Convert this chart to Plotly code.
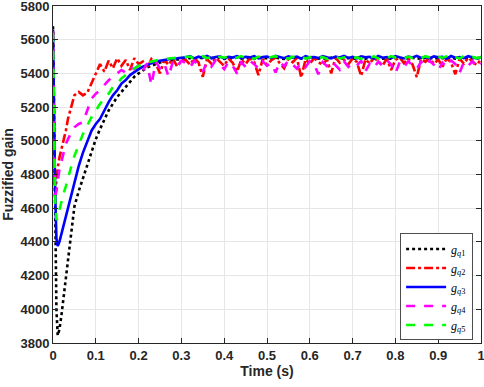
import plotly.graph_objects as go

time_s = [0, 0.002, 0.005, 0.008, 0.011, 0.015, 0.02, 0.025, 0.03, 0.035, 0.04, 0.045, 0.05,
          0.06, 0.07, 0.08, 0.09, 0.10, 0.11, 0.12, 0.13, 0.14, 0.15, 0.16, 0.17, 0.18, 0.19, 0.20,
          0.21, 0.22, 0.23, 0.24, 0.25, 0.26, 0.27, 0.28, 0.29, 0.30,
          0.31, 0.32, 0.33, 0.34, 0.35, 0.36, 0.37, 0.38, 0.39, 0.40,
          0.41, 0.42, 0.43, 0.44, 0.45, 0.46, 0.47, 0.48, 0.49, 0.50,
          0.51, 0.52, 0.53, 0.54, 0.55, 0.56, 0.57, 0.58, 0.59, 0.60,
          0.61, 0.62, 0.63, 0.64, 0.65, 0.66, 0.67, 0.68, 0.69, 0.70,
          0.71, 0.72, 0.73, 0.74, 0.75, 0.76, 0.77, 0.78, 0.79, 0.80,
          0.81, 0.82, 0.83, 0.84, 0.85, 0.86, 0.87, 0.88, 0.89, 0.90,
          0.91, 0.92, 0.93, 0.94, 0.95, 0.96, 0.97, 0.98, 0.99, 1.00]

g_q1 = [5680, 5300, 4600, 4000, 3845, 3880, 3970, 4080, 4190, 4300, 4420, 4520, 4610,
        4700, 4780, 4860, 4940, 5010, 5070, 5130, 5180, 5220, 5260, 5290, 5320, 5350, 5380, 5400,
        5420, 5435, 5445, 5455, 5465, 5470, 5475, 5480, 5482, 5485,
        5488, 5492, 5486, 5494, 5490, 5487, 5493, 5489, 5495, 5486,
        5491, 5488, 5494, 5487, 5492, 5490, 5486, 5493, 5489, 5491,
        5487, 5494, 5490, 5486, 5492, 5488, 5495, 5489, 5491, 5487,
        5493, 5488, 5490, 5486, 5494, 5489, 5492, 5487, 5491, 5490,
        5486, 5493, 5488, 5492, 5489, 5495, 5487, 5490, 5488, 5493,
        5486, 5491, 5489, 5494, 5487, 5490, 5492, 5488, 5493, 5486,
        5491, 5489, 5494, 5487, 5490, 5488, 5493, 5489, 5491, 5490]

g_q2 = [5650, 4900, 4680, 4760, 4840, 4900, 4950, 5000, 5060, 5130, 5180, 5230, 5270,
        5290, 5270, 5285, 5340, 5400, 5455, 5410, 5475, 5430, 5490, 5445, 5480, 5420, 5490, 5455,
        5470, 5430, 5485, 5460, 5400, 5480, 5450, 5490, 5440, 5475,
        5480, 5452, 5490, 5465, 5380, 5485, 5458, 5493, 5470, 5445,
        5488, 5462, 5410, 5482, 5455, 5491, 5468, 5390, 5486, 5450,
        5478, 5494, 5460, 5430, 5487, 5466, 5492, 5375, 5483, 5457,
        5490, 5470, 5448, 5485, 5400, 5493, 5463, 5480, 5454, 5489,
        5467, 5385, 5484, 5459, 5492, 5472, 5446, 5487, 5420, 5481,
        5495, 5461, 5488, 5453, 5378, 5486, 5469, 5491, 5456, 5483,
        5440, 5490, 5464, 5395, 5487, 5458, 5493, 5471, 5449, 5485]

g_q3 = [5660, 5200, 4700, 4420, 4375, 4400, 4450, 4510, 4560, 4610, 4650, 4700, 4750,
        4850, 4930, 5000, 5060, 5100, 5130, 5180, 5230, 5270, 5300, 5340, 5360, 5390, 5410, 5425,
        5440, 5450, 5460, 5470, 5475, 5480, 5485, 5488, 5490, 5492,
        5496, 5502, 5489, 5499, 5493, 5504, 5490, 5497, 5501, 5488,
        5498, 5494, 5503, 5491, 5499, 5495, 5502, 5489, 5497, 5500,
        5492, 5504, 5496, 5490, 5501, 5494, 5499, 5488, 5503, 5495,
        5497, 5491, 5502, 5496, 5489, 5500, 5494, 5504, 5492, 5498,
        5490, 5501, 5495, 5499, 5488, 5503, 5493, 5497, 5491, 5502,
        5496, 5489, 5500, 5494, 5504, 5492, 5498, 5490, 5501, 5495,
        5499, 5488, 5503, 5493, 5497, 5491, 5502, 5496, 5489, 5498]

g_q4 = [5650, 5000, 4680, 4700, 4760, 4830, 4880, 4930, 4980, 5010, 5040, 5060, 5080,
        5100, 5110, 5180, 5250, 5280, 5300, 5330, 5360, 5380, 5400, 5420, 5405, 5440, 5425, 5450,
        5415, 5460, 5330, 5470, 5430, 5460, 5380, 5470, 5440, 5475,
        5462, 5435, 5474, 5448, 5410, 5468, 5440, 5478, 5452, 5425,
        5470, 5445, 5398, 5466, 5438, 5475, 5455, 5430, 5472, 5446,
        5460, 5405, 5469, 5441, 5477, 5450, 5428, 5465, 5437, 5473,
        5456, 5395, 5467, 5443, 5476, 5449, 5422, 5471, 5439, 5463,
        5447, 5474, 5412, 5458, 5432, 5470, 5444, 5478, 5453, 5400,
        5466, 5436, 5472, 5448, 5427, 5469, 5442, 5475, 5451, 5418,
        5464, 5438, 5477, 5455, 5403, 5468, 5445, 5473, 5434, 5460]

g_q5 = [5640, 5100, 4650, 4530, 4540, 4590, 4650, 4690, 4730, 4780, 4820, 4870, 4910,
        4980, 5040, 5090, 5140, 5180, 5220, 5250, 5280, 5320, 5340, 5370, 5390, 5415, 5430, 5445,
        5455, 5465, 5470, 5478, 5482, 5486, 5488, 5490, 5492, 5493,
        5494, 5500, 5487, 5497, 5502, 5490, 5496, 5485, 5499, 5493,
        5501, 5488, 5495, 5503, 5491, 5498, 5486, 5500, 5494, 5489,
        5497, 5502, 5490, 5495, 5487, 5499, 5493, 5501, 5488, 5496,
        5503, 5491, 5498, 5486, 5494, 5500, 5489, 5497, 5502, 5492,
        5495, 5487, 5499, 5493, 5501, 5488, 5496, 5490, 5503, 5494,
        5498, 5486, 5500, 5491, 5497, 5489, 5502, 5495, 5487, 5499,
        5493, 5501, 5490, 5496, 5488, 5503, 5494, 5498, 5491, 5497]

x_ticks = [0, 0.1, 0.2, 0.3, 0.4, 0.5, 0.6, 0.7, 0.8, 0.9, 1]
x_tick_labels = ["0", "0.1", "0.2", "0.3", "0.4", "0.5", "0.6", "0.7", "0.8", "0.9", "1"]
y_ticks = [3800, 4000, 4200, 4400, 4600, 4800, 5000, 5200, 5400, 5600, 5800]

series = [
    ("<i>g</i><sub><i>q</i>1</sub>", g_q1, "#000000", "dot"),
    ("<i>g</i><sub><i>q</i>2</sub>", g_q2, "#ff0000", "dashdot"),
    ("<i>g</i><sub><i>q</i>3</sub>", g_q3, "#0000ff", "solid"),
    ("<i>g</i><sub><i>q</i>4</sub>", g_q4, "#ff00ff", "dash"),
    ("<i>g</i><sub><i>q</i>5</sub>", g_q5, "#00ff00", "dash"),
]

fig = go.Figure()
for name, vals, color, dash in series:
    fig.add_trace(go.Scatter(x=time_s, y=vals, mode="lines", name=name,
                             line=dict(color=color, width=2.6, dash=dash)))

tick_font = dict(family="Liberation Sans", size=13, color="#262626", weight="bold")
title_font = dict(family="Liberation Sans", size=14, color="#262626", weight="bold")
axis_common = dict(showgrid=True, gridcolor="#e6e6e6", gridwidth=1,
                   showline=True, linecolor="#262626", linewidth=1, mirror="ticks",
                   ticks="inside", ticklen=5, tickcolor="#262626", zeroline=False,
                   automargin=False, ticklabeloverflow="allow", tickfont=tick_font)

fig.update_xaxes(range=[0, 1], tickvals=x_ticks, ticktext=x_tick_labels,
                 title=dict(text="Time (s)", font=title_font, standoff=4), **axis_common)
fig.update_yaxes(range=[3800, 5800], tickvals=y_ticks,
                 title=dict(text="Fuzzified gain", font=title_font, standoff=6), **axis_common)

fig.update_layout(
    width=484, height=387,
    margin=dict(l=53, r=3, t=6, b=44),
    plot_bgcolor="white", paper_bgcolor="white",
    legend=dict(x=0.811, y=0.325, xanchor="left", yanchor="top",
                bgcolor="white", bordercolor="#4d4d4d", borderwidth=1,
                font=dict(family="Liberation Serif", size=12, color="#000000"),
                itemwidth=40, tracegroupgap=0),
    showlegend=True,
)

fig.write_html("out.html", config={"displayModeBar": False},
               post_script="document.body.style.margin='0px';document.body.style.overflow='hidden';")
